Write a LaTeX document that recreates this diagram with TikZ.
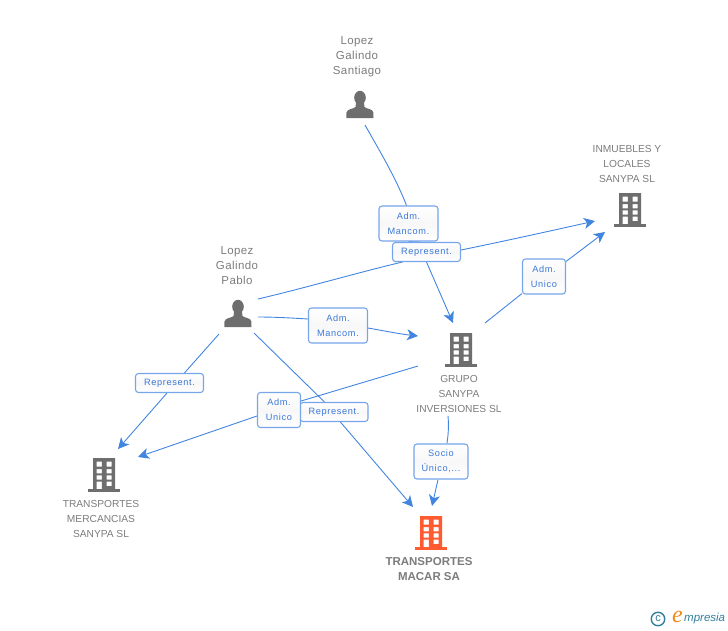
\documentclass[tikz,border=0pt]{standalone}
\usepackage{fontspec}
\setmainfont{Liberation Sans}
\newfontfamily\lblfont[LetterSpace=7]{Liberation Sans}
\newfontfamily\namefont[LetterSpace=3.5]{Liberation Sans}
\newfontfamily\logoe{Liberation Serif}
\usetikzlibrary{arrows.meta}
\pgfdeclarelayer{connlayer}
\pgfsetlayers{connlayer,main}
\definecolor{linkblue}{HTML}{4285E0}
\definecolor{boxblue}{HTML}{76A5EA}
\definecolor{txtblue}{HTML}{3B78D8}
\definecolor{icongray}{HTML}{6E6E6E}
\definecolor{namegray}{HTML}{7C7C7C}
\definecolor{macar}{HTML}{FF5A30}
\definecolor{logoteal}{HTML}{2F7F9A}
\definecolor{logoorange}{HTML}{F08A1C}
\tikzset{
  x=1pt,y=-1pt,
  conn/.style={draw=linkblue,line width=0.9pt},
  arr/.style={conn,-{Stealth[length=11pt,width=11pt,inset=3pt]}},
  lab/.style={draw=boxblue,line width=1.1pt,rounded corners=3pt,top color=white,bottom color=white,middle color=black!3,
    text=txtblue,font=\lblfont\fontsize{9.2}{15}\selectfont,align=center,inner sep=0pt},
  iconbox/.style={inner sep=0pt,minimum width=32pt,minimum height=34pt},
  pname/.style={text=namegray,font=\namefont\fontsize{11.5}{15}\selectfont,align=center,inner sep=0pt},
  cname/.style={text=namegray,font=\fontsize{10.2}{15}\selectfont,align=center,inner sep=0pt},
  building/.pic={
    \fill[pic actions,even odd rule]
      (-11,-17) rectangle (11,15)
      (-7.3,-13.3) rectangle (-2.2,-8.3) (2.5,-13.3) rectangle (7.7,-8.3)
      (-7.3,-6) rectangle (-2.2,-1.7) (2.5,-6) rectangle (7.7,-1.7)
      (-7.3,0.3) rectangle (-2.2,4.7) (2.5,0.3) rectangle (7.7,4.7)
      (-7.3,6.7) rectangle (-2.2,15) (2.5,6.7) rectangle (7.7,11);
    \fill[pic actions] (-15.7,14.3) rectangle (16,16.7);
  },
  person/.pic={
    \fill[pic actions] (0,-7.3) ellipse (5.8 and 6.9);
    \fill[pic actions] (-13.7,13) -- (13.5,13) -- (13.4,7.5)
      .. controls (13,4) and (7,4) .. (4.5,2) -- (4,-2) -- (-4,-2) -- (-4.5,2)
      .. controls (-7,4) and (-13,4) .. (-13.5,7.5) -- cycle;
  }
}
\begin{document}
\begin{tikzpicture}
\useasboundingbox (0,0) rectangle (728,630);

% icon anchors
\node[iconbox] (santiago) at (360,105) {};
\node[iconbox] (pablo) at (238,314) {};
\node[iconbox] (inmuebles) at (630,210) {};
\node[iconbox] (grupo) at (461,350) {};
\node[iconbox] (mercancias) at (104,475) {};
\node[iconbox] (macarsa) at (431,533) {};

\pic[fill=icongray] at (santiago) {person};
\pic[fill=icongray] at (pablo) {person};
\pic[fill=icongray] at (inmuebles) {building};
\pic[fill=icongray] at (grupo) {building};
\pic[fill=icongray] at (mercancias) {building};
\pic[fill=macar] at (macarsa) {building};

% names
\node[pname] (nsantiago) at (357,57) {Lopez\\Galindo\\Santiago};
\node[pname] (npablo) at (237,266) {Lopez\\Galindo\\Pablo};
\node[cname] (ninmuebles) at (627,164) {INMUEBLES Y\\LOCALES\\SANYPA SL};
\node[cname] (ngrupo) at (459,394) {GRUPO\\SANYPA\\INVERSIONES SL};
\node[cname] (nmercancias) at (101,519) {TRANSPORTES\\MERCANCIAS\\SANYPA SL};
\node[text=namegray,font=\bfseries\fontsize{11.5}{15}\selectfont,align=center,inner sep=0pt] (nmacar) at (429,569) {TRANSPORTES\\MACAR SA};

% labels
\node[lab,minimum width=68pt,minimum height=19pt] (l7) at (334,412) {Represent.};
\node[lab,minimum width=59pt,minimum height=35pt] (l1) at (408.5,223.5) {Adm.\\Mancom.};
\node[lab,minimum width=68pt,minimum height=19pt] (l2) at (426.5,252) {Represent.};
\node[lab,minimum width=59pt,minimum height=35pt] (l3) at (338,325.5) {Adm.\\Mancom.};
\node[lab,minimum width=43pt,minimum height=35pt] (l4) at (544,276.5) {Adm.\\Unico};
\node[lab,minimum width=68pt,minimum height=19pt] (l5) at (169.5,383) {Represent.};
\node[lab,minimum width=43pt,minimum height=35pt] (l6) at (279,410) {Adm.\\Unico};
\node[lab,minimum width=54pt,minimum height=35pt] (l8) at (441,461.5) {Socio\\Único,...};

% connectors, below the labels
\begin{pgfonlayer}{connlayer}
\draw[conn] ([shift={(5,20)}]santiago.center) .. controls (378,148) and (396,178) .. ([shift={(-2,0)}]l1.north);
\draw[conn] (l1.south) -- ([shift={(-7,0)}]l2.north);
\draw[arr] ([shift={(0,0)}]l2.south) -- ([shift={(-8,-27)}]grupo.center);
\draw[conn] ([shift={(20,-15)}]pablo.center) .. controls (305,288) and (360,272) .. ([shift={(-24,10)}]l2.center);
\draw[arr] ([shift={(0,-2)}]l2.east) .. controls (505,241) and (550,231) .. ([shift={(-35,11)}]inmuebles.center);
\draw[conn] ([shift={(20,3)}]pablo.center) .. controls (275,317) and (292,318) .. ([shift={(0,-6.5)}]l3.west);
\draw[arr] ([shift={(0,2.5)}]l3.east) .. controls (385,331) and (400,334) .. ([shift={(-43,-14)}]grupo.center);
\draw[conn] ([shift={(24,-27)}]grupo.center) -- ([shift={(0,-1)}]l4.south west);
\draw[arr] ([shift={(0,3)}]l4.north east) -- ([shift={(-25,22)}]inmuebles.center);
\draw[conn] ([shift={(-19,20)}]pablo.center) -- ([shift={(49.5,0)}]l5.north west);
\draw[arr] ([shift={(32,0)}]l5.south west) -- ([shift={(14,-26)}]mercancias.center);
\draw[conn] ([shift={(-43,16)}]grupo.center) -- ([shift={(0,-9)}]l6.east);
\draw[arr] ([shift={(0,6)}]l6.west) -- ([shift={(34,-18)}]mercancias.center);
\draw[conn] ([shift={(16,19)}]pablo.center) -- ([shift={(25,0)}]l7.north west);
\draw[arr] ([shift={(41,0)}]l7.south west) -- ([shift={(-18,-26)}]macarsa.center);
\draw[conn] ([shift={(-11,3)}]ngrupo.south) .. controls (449,428) and (448,436) .. ([shift={(6,0)}]l8.north);
\draw[arr] ([shift={(-3,0)}]l8.south) -- ([shift={(1,-27)}]macarsa.center);
\end{pgfonlayer}

% logo
\node[circle,draw=logoteal,line width=1.4pt,minimum size=13.5pt,inner sep=0pt,text=logoteal,font=\fontsize{11}{11}\selectfont] (clogo) at (658,619) {c};
\node[text=logoorange,font=\logoe\itshape\fontsize{24}{24}\selectfont,inner sep=0pt] (elogo) at (677.5,617) {e};
\node[text=logoteal,font=\itshape\fontsize{11.5}{12}\selectfont,anchor=west,inner sep=0pt] (plogo) at (684,618.5) {mpresia};
\end{tikzpicture}
\end{document}
